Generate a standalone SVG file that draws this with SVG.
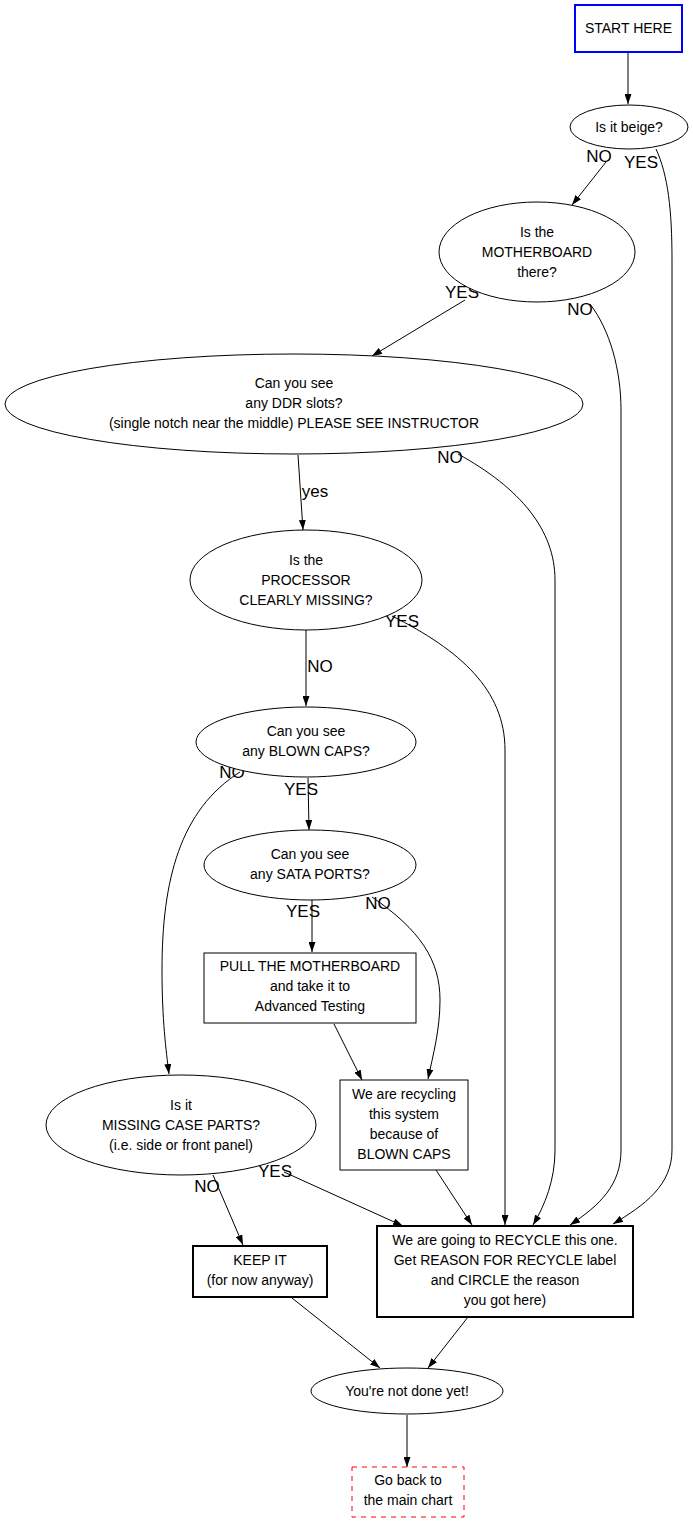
<svg xmlns="http://www.w3.org/2000/svg" width="693" height="1523" viewBox="0 0 693 1523">
<style>
.n{fill:#fff;stroke:#000;stroke-width:1}
.b{stroke-width:2}
.t{font-family:"Liberation Sans",Arial,sans-serif;font-size:14px;text-anchor:middle;fill:#000}
.l{font-family:"Liberation Sans",Arial,sans-serif;font-size:17px;text-anchor:middle;fill:#000}
.e{fill:none;stroke:#000;stroke-width:1;marker-end:url(#a)}
</style>
<defs>
<marker id="a" viewBox="0 0 10 7" refX="10" refY="3.5" markerWidth="10" markerHeight="7" markerUnits="userSpaceOnUse" orient="auto">
<path d="M0,0 L10,3.5 L0,7 z" fill="#000"/>
</marker>
</defs>
<rect width="693" height="1523" fill="#fff"/>
<g id="connectors">
<path class="e" d="M628,52 L628,104"/>
<path class="e" d="M606,162 L572,205"/>
<path class="e" d="M656,149 C668,175 672,210 672,260 L672,1150 C672,1185 645,1205 613,1224"/>
<path class="e" d="M465,300 L372,356"/>
<path class="e" d="M590,304 C610,330 621,370 621,410 L621,1150 C621,1185 600,1205 570,1225"/>
<path class="e" d="M298,455 L303,530"/>
<path class="e" d="M458,454 C520,488 555,530 555,580 L555,1150 C555,1180 545,1205 533,1225"/>
<path class="e" d="M392,616 C460,650 505,690 505,750 L505,1225"/>
<path class="e" d="M306,630 L306,706"/>
<path class="e" d="M308,778 L309,830"/>
<path class="e" d="M240,772 C180,810 162,880 162,970 C162,1020 166,1050 169,1074"/>
<path class="e" d="M312,899 L312,952"/>
<path class="e" d="M372,897 C420,930 440,960 440,1000 C440,1030 433,1055 428,1079"/>
<path class="e" d="M334,1024 L362,1080"/>
<path class="e" d="M436,1170 L472,1225"/>
<path class="e" d="M213,1175 L243,1245"/>
<path class="e" d="M284,1172 L403,1226"/>
<path class="e" d="M292,1298 L380,1368"/>
<path class="e" d="M468,1317 L428,1368"/>
<path class="e" d="M407,1415 L407,1467"/>
<text class="l" x="599" y="162">NO</text>
<text class="l" x="641" y="168">YES</text>
<text class="l" x="462" y="298">YES</text>
<text class="l" x="580" y="315">NO</text>
<text class="l" x="450" y="463">NO</text>
<text class="l" x="315" y="497">yes</text>
<text class="l" x="402" y="627">YES</text>
<text class="l" x="320" y="672">NO</text>
<text class="l" x="232" y="778">NO</text>
<text class="l" x="301" y="795">YES</text>
<text class="l" x="303" y="917">YES</text>
<text class="l" x="378" y="909">NO</text>
<text class="l" x="275" y="1177">YES</text>
<text class="l" x="207" y="1192">NO</text>
</g>
<g id="start">
<rect class="n" x="575" y="5" width="107" height="47" style="stroke:#00f;stroke-width:2"/>
<text class="t" x="628.5" y="33">START HERE</text>
</g>
<g id="beige">
<ellipse class="n" cx="629" cy="127" rx="59" ry="22"/>
<text class="t" x="629" y="132">Is it beige?</text>
</g>
<g id="motherboard">
<ellipse class="n" cx="537" cy="252" rx="98" ry="50"/>
<text class="t" x="537" y="237">Is the</text>
<text class="t" x="537" y="257">MOTHERBOARD</text>
<text class="t" x="537" y="277">there?</text>
</g>
<g id="ddr">
<ellipse class="n" cx="294" cy="404" rx="289" ry="50"/>
<text class="t" x="294" y="388">Can you see</text>
<text class="t" x="294" y="408">any DDR slots?</text>
<text class="t" x="294" y="428">(single notch near the middle) PLEASE SEE INSTRUCTOR</text>
</g>
<g id="processor">
<ellipse class="n" cx="306" cy="580" rx="116" ry="50"/>
<text class="t" x="306" y="565">Is the</text>
<text class="t" x="306" y="585">PROCESSOR</text>
<text class="t" x="306" y="605">CLEARLY MISSING?</text>
</g>
<g id="blowncaps">
<ellipse class="n" cx="306" cy="742" rx="110" ry="35"/>
<text class="t" x="306" y="736">Can you see</text>
<text class="t" x="306" y="756">any BLOWN CAPS?</text>
</g>
<g id="sata">
<ellipse class="n" cx="310" cy="865" rx="106" ry="35"/>
<text class="t" x="310" y="859">Can you see</text>
<text class="t" x="310" y="879">any SATA PORTS?</text>
</g>
<g id="pull">
<rect class="n" x="204" y="953" width="212" height="70"/>
<text class="t" x="310" y="971">PULL THE MOTHERBOARD</text>
<text class="t" x="310" y="991">and take it to</text>
<text class="t" x="310" y="1011">Advanced Testing</text>
</g>
<g id="recyclingcaps">
<rect class="n" x="340" y="1080" width="128" height="90"/>
<text class="t" x="404" y="1099">We are recycling</text>
<text class="t" x="404" y="1119">this system</text>
<text class="t" x="404" y="1139">because of</text>
<text class="t" x="404" y="1159">BLOWN CAPS</text>
</g>
<g id="casemissing">
<ellipse class="n" cx="181" cy="1125" rx="135" ry="50"/>
<text class="t" x="181" y="1110">Is it</text>
<text class="t" x="181" y="1130">MISSING CASE PARTS?</text>
<text class="t" x="181" y="1150">(i.e. side or front panel)</text>
</g>
<g id="recycle">
<rect class="n b" x="377" y="1226" width="256" height="91"/>
<text class="t" x="505" y="1245">We are going to RECYCLE this one.</text>
<text class="t" x="505" y="1265">Get REASON FOR RECYCLE label</text>
<text class="t" x="505" y="1285">and CIRCLE the reason</text>
<text class="t" x="505" y="1305">you got here)</text>
</g>
<g id="keep">
<rect class="n b" x="193" y="1246" width="134" height="51"/>
<text class="t" x="260" y="1265">KEEP IT</text>
<text class="t" x="260" y="1285">(for now anyway)</text>
</g>
<g id="notdone">
<ellipse class="n" cx="407" cy="1391" rx="96" ry="23"/>
<text class="t" x="407" y="1396">You're not done yet!</text>
</g>
<g id="goback">
<rect class="n" x="352" y="1467" width="112" height="50" style="stroke:#f00;stroke-dasharray:5,5"/>
<text class="t" x="408" y="1485">Go back to</text>
<text class="t" x="408" y="1505">the main chart</text>
</g>
</svg>
